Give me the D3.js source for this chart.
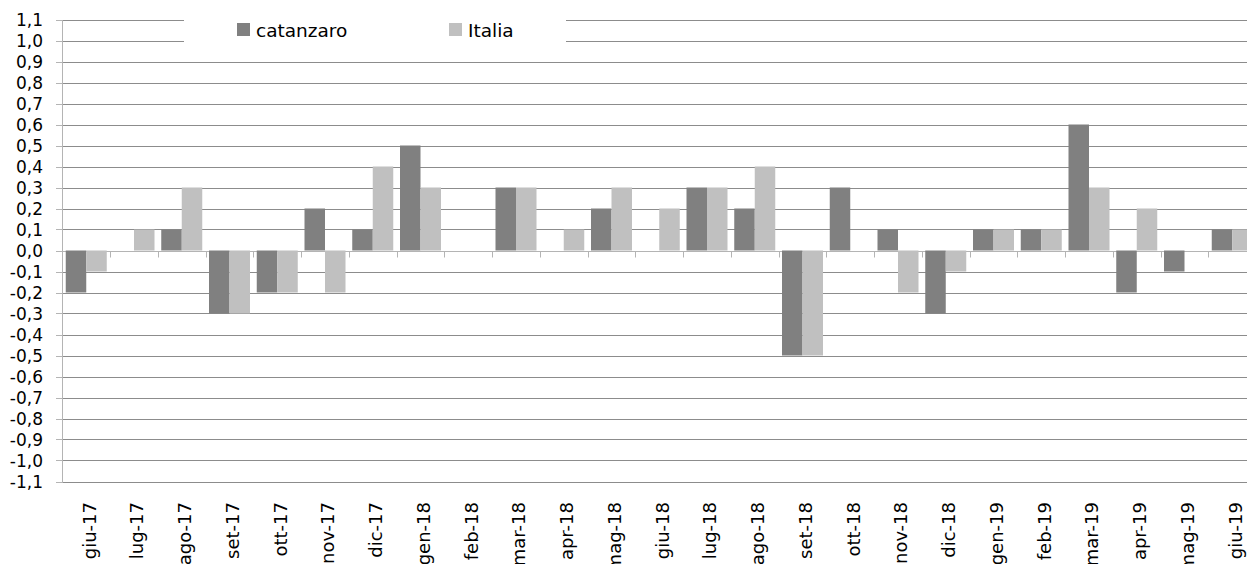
<!DOCTYPE html>
<html>
<head>
<meta charset="utf-8">
<script src="https://cdn.jsdelivr.net/npm/d3@7"></script>
<style>
  html, body { margin: 0; padding: 0; background: #fff; overflow: hidden; }
  svg { display: block; }
  text { font-family: "DejaVu Sans", sans-serif; fill: #000; }
</style>
</head>
<body>
<div id="chart"></div>
<script>
// months shown on the x axis
var months = ["giu-17","lug-17","ago-17","set-17","ott-17","nov-17","dic-17","gen-18","feb-18",
  "mar-18","apr-18","mag-18","giu-18","lug-18","ago-18","set-18","ott-18","nov-18","dic-18",
  "gen-19","feb-19","mar-19","apr-19","mag-19","giu-19"];

var catanzaro = [-0.2, 0, 0.1, -0.3, -0.2, 0.2, 0.1, 0.5, 0, 0.3, 0, 0.2, 0, 0.3, 0.2, -0.5,
  0.3, 0.1, -0.3, 0.1, 0.1, 0.6, -0.2, -0.1, 0.1];
var italia = [-0.1, 0.1, 0.3, -0.3, -0.2, -0.2, 0.4, 0.3, 0, 0.3, 0.1, 0.3, 0.2, 0.3, 0.4, -0.5,
  0, -0.2, -0.1, 0.1, 0.1, 0.3, 0.2, 0, 0.1];

var seriesNames = ["catanzaro", "Italia"];
var seriesColors = ["#808080", "#c0c0c0"];

// y ticks -1.1 .. 1.1
var yTicks = d3.range(-11, 12).map(function(i){ return i / 10; });

var width = 1247, height = 564;
var margin = {left: 62.25, right: 1256, top: 19.5, bottom: 481.5};

var svg = d3.select("#chart").append("svg")
  .attr("width", width)
  .attr("height", height);

var x0 = d3.scaleBand()
  .domain(months)
  .range([margin.left, margin.right])
  .paddingInner(0)
  .paddingOuter(0);

var x1 = d3.scaleBand()
  .domain(seriesNames)
  .range([3.5, 44.5]);

var y = d3.scaleLinear()
  .domain([-1.1, 1.1])
  .range([margin.bottom, margin.top]);

var fmt = function(v){ return d3.format(".1f")(v).replace(".", ",").replace("−", "-"); };

// gridlines
svg.append("g").selectAll("line")
  .data(yTicks)
  .join("line")
  .attr("x1", margin.left)
  .attr("x2", margin.right)
  .attr("y1", function(d){ return Math.round(y(d)) + 0.5; })
  .attr("y2", function(d){ return Math.round(y(d)) + 0.5; })
  .attr("stroke", function(d){ return Math.abs(d) < 1e-9 ? "none" : "#8c8c8c"; })
  .attr("stroke-width", 1);

// y axis line + ticks
var yAxis = svg.append("g");
yAxis.append("line")
  .attr("x1", Math.round(margin.left) + 0.5).attr("x2", Math.round(margin.left) + 0.5)
  .attr("y1", Math.round(y(1.1))).attr("y2", Math.round(y(-1.1)) + 1)
  .attr("stroke", "#b4b4b4");
yAxis.selectAll("line.tick")
  .data(yTicks)
  .join("line")
  .attr("class", "tick")
  .attr("x1", Math.round(margin.left) - 6)
  .attr("x2", Math.round(margin.left))
  .attr("y1", function(d){ return Math.round(y(d)) + 0.5; })
  .attr("y2", function(d){ return Math.round(y(d)) + 0.5; })
  .attr("stroke", "#b4b4b4");
yAxis.selectAll("text")
  .data(yTicks)
  .join("text")
  .attr("x", 43)
  .attr("y", function(d){ return y(d); })
  .attr("dy", "0.36em")
  .attr("text-anchor", "end")
  .style("font-size", "17px")
  .text(fmt);

// x axis at zero (under the bars)
var zeroY = Math.round(y(0)) + 0.5;
var xAxis = svg.append("g");
xAxis.append("line")
  .attr("x1", margin.left).attr("x2", margin.right)
  .attr("y1", zeroY).attr("y2", zeroY)
  .attr("stroke", "#b4b4b4");
xAxis.selectAll("line.tick")
  .data(months.slice(1))
  .join("line")
  .attr("class", "tick")
  .attr("x1", function(d){ return Math.round(x0(d)) + 0.5; })
  .attr("x2", function(d){ return Math.round(x0(d)) + 0.5; })
  .attr("y1", zeroY).attr("y2", zeroY + 6)
  .attr("stroke", "#b4b4b4");

// bars
var rows = months.map(function(m, i){
  return {month: m, values: [
    {name: "catanzaro", value: catanzaro[i]},
    {name: "Italia", value: italia[i]}
  ]};
});

var color = d3.scaleOrdinal().domain(seriesNames).range(seriesColors);

svg.append("g").selectAll("g")
  .data(rows)
  .join("g")
  .attr("transform", function(d){ return "translate(" + x0(d.month) + ",0)"; })
  .selectAll("rect")
  .data(function(d){ return d.values.filter(function(v){ return v.value !== 0; }); })
  .join("rect")
  .attr("x", function(d){ return x1(d.name); })
  .attr("width", x1.bandwidth())
  .attr("y", function(d){ return y(Math.max(0, d.value)); })
  .attr("height", function(d){ return Math.abs(y(d.value) - y(0)); })
  .attr("fill", function(d){ return color(d.name); });

// month labels at the bottom
svg.append("g").selectAll("text")
  .data(months)
  .join("text")
  .attr("transform", function(d){
    return "translate(" + (x0(d) + x0.bandwidth() / 2 + 3) + ",502) rotate(-90)";
  })
  .attr("dy", "0.36em")
  .attr("text-anchor", "end")
  .style("font-size", "18px")
  .text(function(d){ return d; });

// legend
var legend = svg.append("g");
legend.append("rect")
  .attr("x", 184).attr("y", 0)
  .attr("width", 382).attr("height", 46)
  .attr("fill", "#fff");
var legendX = [237, 449];
var item = legend.selectAll("g")
  .data(seriesNames)
  .join("g")
  .attr("transform", function(d, i){ return "translate(" + legendX[i] + ",23)"; });
item.append("rect")
  .attr("width", 13).attr("height", 13)
  .attr("fill", function(d){ return color(d); });
item.append("text")
  .attr("x", 19)
  .attr("y", 14)
  .style("font-size", "18.5px")
  .text(function(d){ return d; });
</script>
</body>
</html>
